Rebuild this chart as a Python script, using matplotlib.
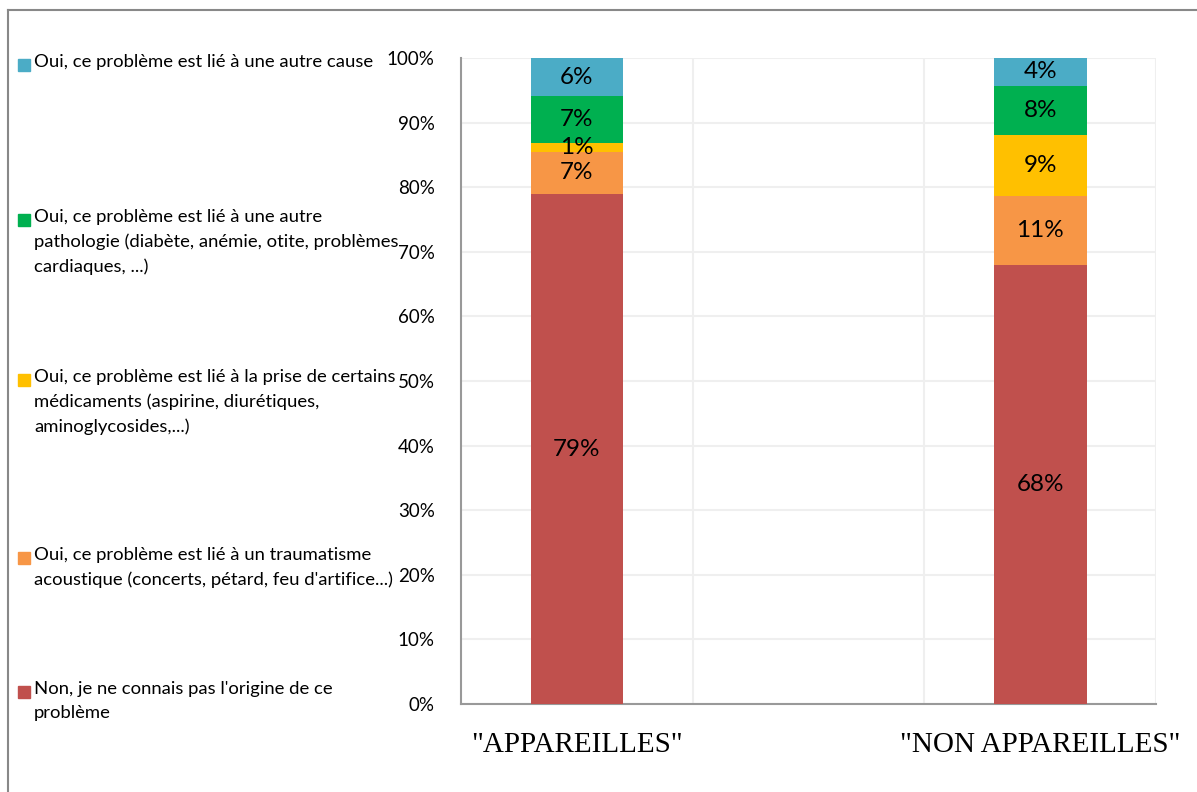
import numpy as np
import matplotlib
matplotlib.use("Agg")
import matplotlib.pyplot as plt
from matplotlib.patches import Rectangle
from matplotlib.lines import Line2D

# ==============================
# DATA
# ==============================
groups = ['"APPAREILLES"', '"NON APPAREILLES"']

series_names = [
    "Non, je ne connais pas l'origine de ce\nproblème",
    "Oui, ce problème est lié à un traumatisme\nacoustique (concerts, pétard, feu d'artifice...)",
    "Oui, ce problème est lié à la prise de certains\nmédicaments (aspirine, diurétiques,\naminoglycosides,...)",
    "Oui, ce problème est lié à une autre\npathologie (diabète, anémie, otite, problèmes\ncardiaques, ...)",
    "Oui, ce problème est lié à une autre cause",
]
non_connu = [78.9, 68.0]
traumatisme = [6.6, 10.7]
medicaments = [1.4, 9.4]
pathologie = [7.2, 7.6]
autre_cause = [5.9, 4.3]

values = [non_connu, traumatisme, medicaments, pathologie, autre_cause]
colors = ["#C0504D", "#F79646", "#FFC000", "#00B050", "#4BACC6"]

# ==============================
# FIGURE
# ==============================
plt.rcParams['font.family'] = ['Lato', 'DejaVu Sans']

fig = plt.figure(figsize=(11.97, 7.92), dpi=100)
ax = fig.add_axes([461 / 1197, 88 / 792, 695 / 1197, 646 / 792])

x = np.arange(len(groups))
bottom = np.zeros(len(groups))
for vals, col in zip(values, colors):
    vals = np.array(vals)
    ax.bar(x, vals, width=0.2, bottom=bottom, color=col, zorder=3)
    for xi, b, v in zip(x, bottom, vals):
        ax.text(xi, b + v / 2, f"{round(v):d}%", ha="center", va="center",
                fontsize=17.5, color="black", zorder=4)
    bottom += vals

ax.set_xlim(-0.25, 1.25)
ax.set_ylim(0, 100)
ax.set_yticks(np.arange(0, 101, 10))
ax.set_yticklabels([f"{t}%" for t in range(0, 101, 10)], fontsize=13.5)
ax.set_xticks(x)
ax.set_xticklabels(groups, family=["Liberation Serif"], fontsize=21)
ax.tick_params(axis="both", length=0)
ax.tick_params(axis="y", pad=19)
ax.tick_params(axis="x", pad=20)

# gridlines
ax.yaxis.grid(True, color="#EFEFEF", linewidth=1.5, zorder=0)
for gx in [0.25, 0.75, 1.25]:
    ax.axvline(gx, color="#EFEFEF", linewidth=1.5, zorder=0)

for s in ["top", "right"]:
    ax.spines[s].set_visible(False)
ax.spines["left"].set_color("#999999")
ax.spines["left"].set_linewidth(1.5)
ax.spines["bottom"].set_color("#999999")
ax.spines["bottom"].set_linewidth(1.5)

# ==============================
# LEGEND (manual, left side)
# ==============================
legend_y = [65, 220, 380, 558, 692]  # first-line centre, pixels from top
order = [4, 3, 2, 1, 0]
for yy, idx in zip(legend_y, order):
    fy = 1 - yy / 792
    fig.patches.append(Rectangle((18 / 1197, fy - 6 / 792), 12 / 1197, 12 / 792,
                                 transform=fig.transFigure, color=colors[idx]))
    fig.text(34 / 1197, fy + 11 / 792, series_names[idx], ha="left", va="top",
             fontsize=13.3, linespacing=1.64)

# outer frame (top and left)
fig.add_artist(Line2D([8 / 1197, 8 / 1197], [0, 1 - 10 / 792],
                      transform=fig.transFigure, color="#888888", linewidth=1.5))
fig.add_artist(Line2D([8 / 1197, 1], [1 - 10 / 792, 1 - 10 / 792],
                      transform=fig.transFigure, color="#888888", linewidth=1.5))

fig.savefig("out.png", dpi=100)
